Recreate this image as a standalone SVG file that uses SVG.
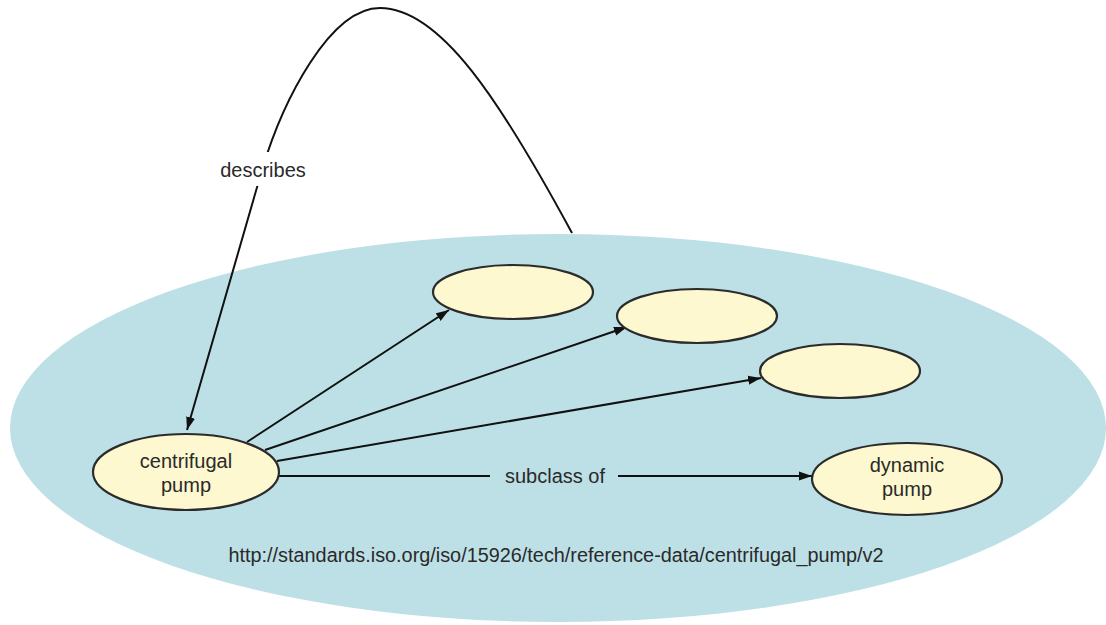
<svg xmlns="http://www.w3.org/2000/svg" width="1106" height="625" viewBox="0 0 1106 625">
  <defs>
    <marker id="arrow" markerUnits="userSpaceOnUse" markerWidth="14" markerHeight="10" refX="13" refY="5" orient="auto">
      <path d="M0,0.5 L13,5 L0,9.5 z" fill="#111"/>
    </marker>
    <style>
      .node ellipse { fill: #fdf8cf; stroke: #2b2b2b; stroke-width: 2.2; }
      .label { font-family: "Liberation Sans", Arial, sans-serif; font-size: 20px; fill: #2a2a2a; text-anchor: middle; }
      .edge { fill: none; stroke: #111; stroke-width: 2; }
    </style>
  </defs>

  <rect width="1106" height="625" fill="#ffffff"/>

  <!-- namespace / document area -->
  <g id="namespace">
    <ellipse cx="558" cy="428" rx="548" ry="194" fill="#bde0e6"/>
    <text class="label" x="556" y="562" font-size="18" textLength="655" lengthAdjust="spacingAndGlyphs">http://standards.iso.org/iso/15926/tech/reference-data/centrifugal_pump/v2</text>
  </g>

  <!-- connectors -->
  <g id="connectors">
    <!-- describes: from the document boundary back to the class -->
    <path class="edge" d="M572,233 C500,100 440,8 380,8 C330,8 283,100 262,170 L187,430" marker-end="url(#arrow)"/>
    <rect x="216" y="152" width="94" height="34" fill="#ffffff"/>
    <text class="label" x="263" y="177">describes</text>

    <line class="edge" x1="247" y1="442" x2="449" y2="310" marker-end="url(#arrow)"/>
    <line class="edge" x1="265" y1="450" x2="627" y2="327" marker-end="url(#arrow)"/>
    <line class="edge" x1="277" y1="461" x2="761" y2="378" marker-end="url(#arrow)"/>

    <!-- subclass of -->
    <line class="edge" x1="279" y1="476" x2="490" y2="476"/>
    <line class="edge" x1="618" y1="476" x2="812" y2="476" marker-end="url(#arrow)"/>
    <text class="label" x="555" y="483">subclass of</text>
  </g>

  <!-- nodes -->
  <g id="centrifugal-pump" class="node">
    <ellipse cx="186" cy="472" rx="93" ry="38"/>
    <text class="label" x="186" y="468">centrifugal</text>
    <text class="label" x="186" y="492">pump</text>
  </g>

  <g id="property-1" class="node">
    <ellipse cx="513" cy="292" rx="80" ry="27"/>
  </g>

  <g id="property-2" class="node">
    <ellipse cx="697" cy="316" rx="80" ry="27"/>
  </g>

  <g id="property-3" class="node">
    <ellipse cx="840" cy="371" rx="80" ry="27"/>
  </g>

  <g id="dynamic-pump" class="node">
    <ellipse cx="907" cy="479" rx="95" ry="36"/>
    <text class="label" x="907" y="472">dynamic</text>
    <text class="label" x="907" y="496">pump</text>
  </g>
</svg>
